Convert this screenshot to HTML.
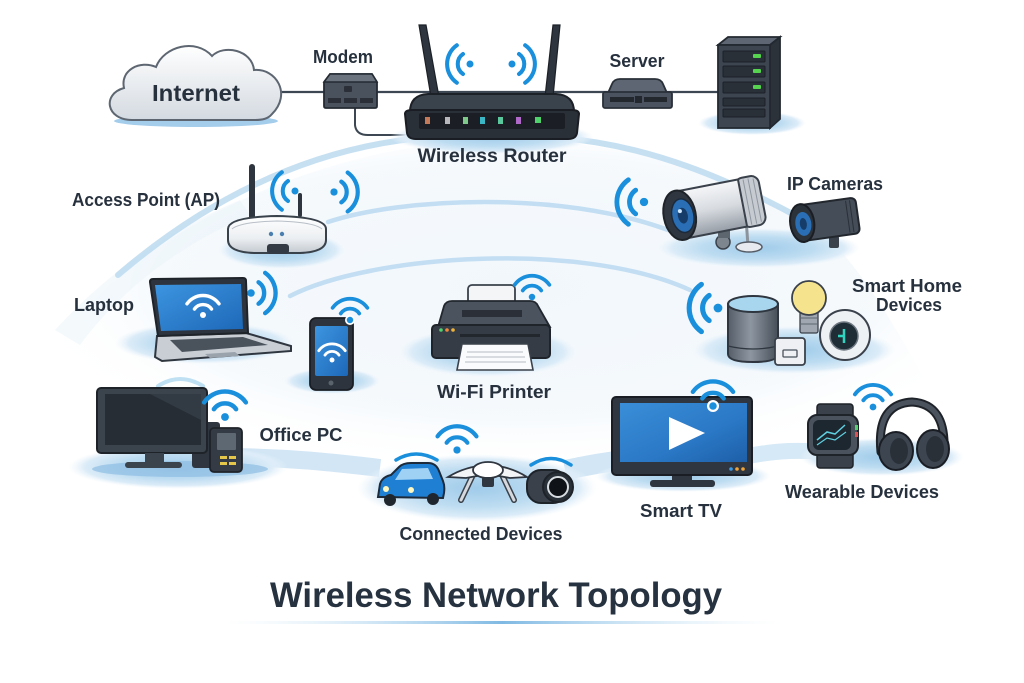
<!DOCTYPE html>
<html><head><meta charset="utf-8"><style>
html,body{margin:0;padding:0;background:#fff;}
svg{display:block;}
text{font-family:"Liberation Sans",Arial,sans-serif;fill:#27313e;font-weight:bold;}
</style></head><body>
<svg width="1024" height="683" viewBox="0 0 1024 683" xmlns="http://www.w3.org/2000/svg" style="color:#1a8fdc">
<defs>
<radialGradient id="sh" cx="50%" cy="50%" r="50%">
<stop offset="0" stop-color="#9fcbea"/>
<stop offset="0.55" stop-color="#bddcf1"/>
<stop offset="0.85" stop-color="#dcecf8"/>
<stop offset="1" stop-color="#eef6fc" stop-opacity="0"/>
</radialGradient>
<radialGradient id="wash" cx="50%" cy="45%" r="55%">
<stop offset="0" stop-color="#eef5fb"/>
<stop offset="0.7" stop-color="#f3f8fc"/>
<stop offset="1" stop-color="#ffffff" stop-opacity="0"/>
</radialGradient>
<linearGradient id="blueS" x1="0" y1="0" x2="1" y2="1"><stop offset="0" stop-color="#3d95e0"/><stop offset="1" stop-color="#1d68b8"/></linearGradient>
<linearGradient id="blueTV" x1="0" y1="0" x2="1" y2="1"><stop offset="0" stop-color="#3a8ed8"/><stop offset="0.6" stop-color="#2a78c6"/><stop offset="1" stop-color="#1e5fa8"/></linearGradient>
<linearGradient id="silver" x1="0" y1="0" x2="0" y2="1"><stop offset="0" stop-color="#f5f6f8"/><stop offset="0.5" stop-color="#d7dbe0"/><stop offset="1" stop-color="#969da6"/></linearGradient>
<linearGradient id="apG" x1="0" y1="0" x2="0" y2="1"><stop offset="0" stop-color="#ffffff"/><stop offset="0.6" stop-color="#eceff2"/><stop offset="1" stop-color="#c3c9d0"/></linearGradient>
<linearGradient id="cloudG" x1="0" y1="0" x2="0" y2="1"><stop offset="0" stop-color="#ffffff"/><stop offset="1" stop-color="#d4dae1"/></linearGradient>
<linearGradient id="cyl" x1="0" y1="0" x2="1" y2="0"><stop offset="0" stop-color="#555d68"/><stop offset="0.45" stop-color="#8d96a1"/><stop offset="1" stop-color="#464e58"/></linearGradient>
<linearGradient id="ul" x1="0" x2="1"><stop offset="0" stop-color="#d6ebf8" stop-opacity="0"/><stop offset="0.5" stop-color="#7fb9e3"/><stop offset="1" stop-color="#d6ebf8" stop-opacity="0"/></linearGradient>
<g id="wf" fill="none" stroke="currentColor" stroke-width="3" stroke-linecap="round">
<circle cx="0" cy="0" r="2.6" fill="currentColor" stroke="none"/>
<path d="M-7.4 -5.2 A9 9 0 0 1 7.4 -5.2"/>
<path d="M-13.9 -9.75 A17 17 0 0 1 13.9 -9.75"/>
</g>
</defs>

<!-- background wash -->
<path d="M60 340 C130 240 300 150 480 140 C650 135 770 190 840 250 C900 320 930 400 980 470 L60 470 Z" fill="url(#wash)" opacity="0.8"/>
<path d="M55 330 C110 270 170 230 240 200 L250 215 C180 245 120 290 80 345 Z" fill="#e9f3fa" opacity="0.5"/>

<!-- arcs -->
<path d="M118 275 C200 205 300 150 420 138 L560 138 C650 145 730 180 800 218" fill="none" stroke="#bcdaf0" stroke-width="6" stroke-linecap="round" opacity="0.85"/>
<path d="M328 222 C400 198 560 190 668 230" fill="none" stroke="#c3def2" stroke-width="4.5" stroke-linecap="round"/>
<path d="M290 296 C370 255 580 240 690 290" fill="none" stroke="#c3def2" stroke-width="4.5" stroke-linecap="round"/>

<!-- bottom bands -->
<path d="M236 457 C290 458 330 462 380 468" fill="none" stroke="#d2e6f5" stroke-width="18"/>
<path d="M565 470 C590 465 605 462 625 460" fill="none" stroke="#d2e6f5" stroke-width="20"/>
<path d="M748 456 C780 450 800 450 825 452" fill="none" stroke="#d6e9f6" stroke-width="16"/>

<!-- main line -->
<line x1="280" y1="92" x2="720" y2="92" stroke="#3d4753" stroke-width="2.2"/>
<path d="M355 107 L355 125 Q356 135 368 135 L410 135" fill="none" stroke="#3d4753" stroke-width="2"/>

<!-- Cloud -->
<ellipse cx="196" cy="121" rx="82" ry="6" fill="#8dbfe6" opacity="0.8"/>
<path d="M132 120 C106 120 102 94 124 88 C120 70 140 60 156 67 C164 46 196 38 212 56 C224 44 252 50 254 70 C276 68 292 94 272 114 C268 119 262 120 255 120 Z" fill="url(#cloudG)" stroke="#5d6671" stroke-width="2"/>
<text x="196" y="101" text-anchor="middle" font-size="23" textLength="88" lengthAdjust="spacingAndGlyphs">Internet</text>

<!-- Modem -->
<path d="M330 74 L372 74 L377 82 L377 106 Q377 108 375 108 L326 108 Q324 108 324 106 L324 82 Z" fill="#4a525e" stroke="#252b33" stroke-width="1.8"/>
<path d="M330 74 L372 74 L377 82 L324 82 Z" fill="#6b737e" stroke="#252b33" stroke-width="1.5"/>
<rect x="344" y="86" width="8" height="6" rx="1" fill="#2b3038"/>
<rect x="328" y="98" width="13" height="5" fill="#2b3038"/>
<rect x="344" y="98" width="13" height="5" fill="#2b3038"/>
<rect x="360" y="98" width="13" height="5" fill="#2b3038"/>
<text x="343" y="63" text-anchor="middle" font-size="18" textLength="60" lengthAdjust="spacingAndGlyphs">Modem</text>

<!-- Router -->
<ellipse cx="492" cy="137" rx="102" ry="17" fill="url(#sh)"/>
<path d="M419 25 L426 25 L439 97 L431 97 Z" fill="#2e353e" stroke="#1c2127" stroke-width="1.2"/>
<path d="M553 25 L560 25 L553 97 L545 97 Z" fill="#2e353e" stroke="#1c2127" stroke-width="1.2"/>
<path d="M410 112 Q410 95 428 94 L556 94 Q574 95 574 112 Z" fill="#3a424c" stroke="#1c2127" stroke-width="2"/>
<path d="M405 114 Q405 110 412 110 L572 110 Q579 110 579 114 L577 133 Q576 139 568 139 L416 139 Q408 139 407 133 Z" fill="#2a3038" stroke="#1a1e24" stroke-width="2"/>
<rect x="419" y="113" width="146" height="16" rx="2" fill="#1b1f25"/>
<rect x="425" y="117" width="5" height="7" fill="#c47a58"/>
<rect x="445" y="117" width="5" height="7" fill="#b8b8bc"/>
<rect x="463" y="117" width="5" height="7" fill="#7fc98b"/>
<rect x="480" y="117" width="5" height="7" fill="#3ab6c5"/>
<rect x="498" y="117" width="5" height="7" fill="#5ac79c"/>
<rect x="516" y="117" width="5" height="7" fill="#b068c9"/>
<rect x="535" y="117" width="6" height="6" fill="#4fd16b"/>
<use href="#wf" transform="translate(470,64) rotate(-90) scale(1.35)"/>
<use href="#wf" transform="translate(512,64) rotate(90) scale(1.35)"/>
<text x="492" y="162" text-anchor="middle" font-size="19" textLength="149" lengthAdjust="spacingAndGlyphs">Wireless Router</text>

<!-- Server small -->
<path d="M608 93 L612 84 Q614 79 620 79 L655 79 Q661 79 663 84 L667 93 Z" fill="#5d6672" stroke="#2a3038" stroke-width="1.8"/>
<rect x="603" y="92" width="69" height="16" rx="2" fill="#4b5360" stroke="#2a3038" stroke-width="1.8"/>
<rect x="610" y="97" width="24" height="5" fill="#23282f"/>
<rect x="635" y="96" width="7" height="7" fill="#23282f"/>
<rect x="644" y="97" width="23" height="5" fill="#23282f"/>
<text x="637" y="67" text-anchor="middle" font-size="18" textLength="55" lengthAdjust="spacingAndGlyphs">Server</text>

<!-- Server tower -->
<ellipse cx="752" cy="123" rx="54" ry="12" fill="url(#sh)"/>
<path d="M718 45 L728 37 L780 37 L770 45 Z" fill="#5d6672" stroke="#232930" stroke-width="1.8"/>
<path d="M770 45 L780 37 L780 119 L770 128 Z" fill="#2c323a" stroke="#232930" stroke-width="1.8"/>
<rect x="718" y="45" width="52" height="83" fill="#3d4550" stroke="#232930" stroke-width="1.8"/>
<rect x="723" y="51" width="42" height="11" rx="1" fill="#2a3038" stroke="#1c2127"/>
<rect x="723" y="66" width="42" height="11" rx="1" fill="#2a3038" stroke="#1c2127"/>
<rect x="723" y="82" width="42" height="11" rx="1" fill="#2a3038" stroke="#1c2127"/>
<rect x="723" y="98" width="42" height="8" rx="1" fill="#2a3038" stroke="#1c2127"/>
<rect x="723" y="109" width="42" height="8" rx="1" fill="#2a3038" stroke="#1c2127"/>
<rect x="753" y="54" width="8" height="4" rx="1" fill="#57d44f"/>
<rect x="753" y="69" width="8" height="4" rx="1" fill="#57d44f"/>
<rect x="753" y="85" width="8" height="4" rx="1" fill="#57d44f"/>

<!-- Access Point -->
<ellipse cx="282" cy="250" rx="64" ry="19" fill="url(#sh)"/>
<rect x="249" y="164" width="6" height="56" rx="3" fill="#2e353e"/>
<rect x="298" y="193" width="4" height="24" rx="2" fill="#2e353e"/>
<path d="M228 229 Q228 217 277 216 Q326 217 326 229 L326 240 Q326 252 300 253 L254 253 Q228 252 228 240 Z" fill="url(#apG)" stroke="#39414b" stroke-width="2"/>
<path d="M232 229 Q240 222 277 221 Q314 222 322 229" fill="none" stroke="#b8bfc7" stroke-width="1"/>
<circle cx="271" cy="234" r="2.2" fill="#4a7fb0"/>
<circle cx="282" cy="234" r="2.2" fill="#4a7fb0"/>
<rect x="267" y="244" width="22" height="10" rx="3" fill="#333a43"/>
<use href="#wf" transform="translate(295,191) rotate(-90) scale(1.35)"/>
<use href="#wf" transform="translate(334,192) rotate(90) scale(1.4)"/>
<text x="146" y="206" text-anchor="middle" font-size="18" textLength="148" lengthAdjust="spacingAndGlyphs">Access Point (AP)</text>

<!-- IP Cameras -->
<ellipse cx="758" cy="248" rx="102" ry="20" fill="url(#sh)"/>
<use href="#wf" transform="translate(644,202) rotate(-90) scale(1.6)"/>
<line x1="746" y1="218" x2="748" y2="246" stroke="#8b939c" stroke-width="3"/>
<ellipse cx="749" cy="247" rx="13" ry="5" fill="#e7eaee" stroke="#555c66" stroke-width="1.5"/>
<circle cx="723" cy="242" r="7" fill="#7d858f" stroke="#3a414a" stroke-width="1.5"/>
<rect x="718" y="228" width="12" height="10" fill="#5d656f"/>
<g transform="translate(717,208) rotate(-11)">
<rect x="22" y="-25" width="24" height="50" rx="8" fill="#c6cbd1" stroke="#3a414a" stroke-width="2"/>
<line x1="31" y1="-23" x2="31" y2="23" stroke="#8f969f" stroke-width="1"/>
<line x1="36" y1="-23" x2="36" y2="23" stroke="#8f969f" stroke-width="1"/>
<line x1="41" y1="-22" x2="41" y2="22" stroke="#8f969f" stroke-width="1"/>
<rect x="-38" y="-24" width="64" height="48" fill="url(#silver)" stroke="#3a414a" stroke-width="2"/>
<ellipse cx="-38" cy="0" rx="16" ry="25" fill="#2f363f" stroke="#1e2329" stroke-width="2"/>
<ellipse cx="-35" cy="1" rx="11" ry="17" fill="#2a6fb5" stroke="#1b2b3d" stroke-width="1.5"/>
<ellipse cx="-35" cy="1" rx="5" ry="8" fill="#163d69"/>
<circle cx="-37" cy="-4" r="2" fill="#cfe8ff"/>
</g>
<rect x="829" y="236" width="10" height="12" rx="2" fill="#3a414a"/>
<g transform="translate(824,220) rotate(-8)">
<rect x="-22" y="-18" width="56" height="36" rx="5" fill="#454d58" stroke="#22272e" stroke-width="2"/>
<line x1="24" y1="-16" x2="24" y2="16" stroke="#2a3038"/>
<line x1="28" y1="-16" x2="28" y2="16" stroke="#2a3038"/>
<ellipse cx="-22" cy="0" rx="12" ry="19" fill="#2c323a" stroke="#1a1e24" stroke-width="2"/>
<ellipse cx="-21" cy="1" rx="8" ry="12" fill="#2a6fb5"/>
<ellipse cx="-21" cy="1" rx="3.5" ry="6" fill="#163d69"/>
</g>
<text x="835" y="190" text-anchor="middle" font-size="18" textLength="96" lengthAdjust="spacingAndGlyphs">IP Cameras</text>

<!-- Laptop -->
<ellipse cx="205" cy="343" rx="90" ry="21" fill="url(#sh)"/>
<path d="M157 336 L246 333 L291 346 L291 351 L162 361 L155 357 Z" fill="#c9ced4" stroke="#2f363f" stroke-width="2"/>
<path d="M170 340 L243 337 L268 345 L182 352 Z" fill="#4a525c"/>
<path d="M205 354 L235 352 L240 356 L210 358 Z" fill="#9aa2ab"/>
<path d="M150 282 Q150 279 153 279 L243 278 Q246 278 246 281 L248 333 L158 336 Z" fill="#2d343d" stroke="#1e2329" stroke-width="2"/>
<path d="M155 285 L241 284 L243 329 L161 331 Z" fill="url(#blueS)"/>
<use href="#wf" style="color:#ffffff" transform="translate(203,315) scale(1.15)"/>
<use href="#wf" transform="translate(251,293) rotate(90) scale(1.45)"/>
<text x="104" y="311" text-anchor="middle" font-size="18" textLength="60" lengthAdjust="spacingAndGlyphs">Laptop</text>

<!-- Phone -->
<ellipse cx="332" cy="381" rx="48" ry="13" fill="url(#sh)"/>
<rect x="310" y="318" width="43" height="72" rx="6" fill="#2d343d" stroke="#1a1e24" stroke-width="1.8"/>
<rect x="315" y="326" width="33" height="50" rx="2" fill="url(#blueS)"/>
<circle cx="331" cy="383" r="2.5" fill="#5a626c"/>
<use href="#wf" style="color:#ffffff" transform="translate(332,360) scale(0.95)"/>
<circle cx="350" cy="320" r="5" fill="#ffffff"/>
<use href="#wf" transform="translate(350,320) scale(1.25)"/>

<!-- Printer -->
<ellipse cx="488" cy="352" rx="90" ry="25" fill="url(#sh)"/>
<rect x="468" y="285" width="47" height="30" rx="4" fill="#f4f5f6" stroke="#3a414a" stroke-width="1.8"/>
<path d="M438 327 L444 306 Q446 301 452 301 L530 301 Q536 301 538 306 L550 327 Z" fill="#4b535e" stroke="#22272e" stroke-width="1.8"/>
<rect x="462" y="310" width="60" height="7" fill="#2b3038"/>
<rect x="432" y="325" width="118" height="33" rx="4" fill="#353c46" stroke="#1f242b" stroke-width="2"/>
<rect x="460" y="334" width="80" height="3" fill="#22272e"/>
<circle cx="441" cy="330" r="1.8" fill="#4fd16b"/>
<circle cx="447" cy="330" r="1.8" fill="#f08a3a"/>
<circle cx="453" cy="330" r="1.8" fill="#f0b43a"/>
<path d="M462 344 L528 344 L533 370 L457 370 Z" fill="#fafbfc" stroke="#3a414a" stroke-width="1.6"/>
<line x1="467" y1="352" x2="523" y2="352" stroke="#b7bec6"/>
<line x1="466" y1="357" x2="525" y2="357" stroke="#b7bec6"/>
<line x1="465" y1="362" x2="526" y2="362" stroke="#b7bec6"/>
<use href="#wf" transform="translate(532,297) scale(1.25)"/>
<text x="494" y="398" text-anchor="middle" font-size="18" textLength="114" lengthAdjust="spacingAndGlyphs">Wi-Fi Printer</text>

<!-- Smart Home -->
<ellipse cx="793" cy="350" rx="102" ry="24" fill="url(#sh)"/>
<use href="#wf" transform="translate(718,308) rotate(-90) scale(1.7)"/>
<path d="M728 304 L728 354 Q728 362 753 362 Q778 362 778 354 L778 304 Z" fill="url(#cyl)" stroke="#2f363f" stroke-width="2"/>
<path d="M728 346 Q753 352 778 346" fill="none" stroke="#2f363f" stroke-width="1.2"/>
<ellipse cx="753" cy="304" rx="25" ry="8" fill="#a9d6ef" stroke="#2f363f" stroke-width="2"/>
<rect x="800" y="311" width="18" height="22" rx="2" fill="#a0a7b0" stroke="#3a414a" stroke-width="1.3"/>
<line x1="800" y1="318" x2="818" y2="318" stroke="#5c646e"/>
<line x1="800" y1="324" x2="818" y2="324" stroke="#5c646e"/>
<circle cx="809" cy="298" r="17" fill="#f6e38e" stroke="#3a414a" stroke-width="1.8"/>
<circle cx="845" cy="335" r="25" fill="#eef1f4" stroke="#3a414a" stroke-width="2"/>
<circle cx="844" cy="336" r="14" fill="#1f2e36" stroke="#6c7680" stroke-width="1.5"/>
<line x1="844" y1="329" x2="844" y2="343" stroke="#2fd5c0" stroke-width="2.5"/>
<line x1="838" y1="336" x2="845" y2="336" stroke="#2fd5c0" stroke-width="2.5"/>
<rect x="775" y="338" width="30" height="27" rx="3" fill="#eef0f3" stroke="#3a414a" stroke-width="1.8"/>
<rect x="783" y="350" width="14" height="7" rx="1" fill="none" stroke="#4a525c" stroke-width="1.3"/>
<text x="907" y="292" text-anchor="middle" font-size="18" textLength="110" lengthAdjust="spacingAndGlyphs">Smart Home</text>
<text x="909" y="311" text-anchor="middle" font-size="18" textLength="66" lengthAdjust="spacingAndGlyphs">Devices</text>

<!-- Office PC -->
<ellipse cx="178" cy="467" rx="110" ry="22" fill="url(#sh)"/>
<ellipse cx="180" cy="469" rx="88" ry="8" fill="#8fbde2" opacity="0.7"/>
<path d="M158 386 Q180 372 203 386" fill="none" stroke="#bfe0f3" stroke-width="4" stroke-linecap="round"/>
<rect x="192" y="422" width="28" height="46" rx="3" fill="#2f363f"/>
<rect x="97" y="388" width="110" height="65" rx="4" fill="#3b434d" stroke="#1e2329" stroke-width="2"/>
<rect x="105" y="394" width="96" height="51" fill="#262d35"/>
<path d="M150 394 L201 394 L201 420 Z" fill="#323a44"/>
<rect x="145" y="453" width="19" height="11" fill="#3b434d"/>
<rect x="125" y="462" width="57" height="6" rx="3" fill="#3b434d"/>
<rect x="210" y="428" width="32" height="44" rx="4" fill="#343b45" stroke="#1e2329" stroke-width="1.8"/>
<rect x="217" y="433" width="19" height="17" rx="1" fill="#5e6873"/>
<rect x="220" y="456" width="7" height="3" fill="#e4c64a"/>
<rect x="229" y="456" width="7" height="3" fill="#e4c64a"/>
<rect x="220" y="462" width="7" height="3" fill="#e4c64a"/>
<rect x="229" y="462" width="7" height="3" fill="#e4c64a"/>
<use href="#wf" transform="translate(225,417) scale(1.5)"/>
<text x="301" y="441" text-anchor="middle" font-size="18" textLength="83" lengthAdjust="spacingAndGlyphs">Office PC</text>

<!-- Connected Devices -->
<ellipse cx="477" cy="488" rx="120" ry="34" fill="url(#sh)"/>
<path d="M396 460 Q416 448 437 460" fill="none" stroke="#1a8fdc" stroke-width="3.5" stroke-linecap="round"/>
<path d="M531 465 Q551 452 571 465" fill="none" stroke="#1a8fdc" stroke-width="3.5" stroke-linecap="round"/>
<path d="M378 497 L380 484 Q382 477 391 475 L399 467 Q403 463 411 463 L428 463 Q436 463 439 471 L443 481 Q445 486 444 493 L443 498 Z" fill="#1f7fd3" stroke="#1d2a3a" stroke-width="2"/>
<path d="M402 469 L428 468 L433 479 L395 480 Z" fill="#9fd1f5"/>
<circle cx="386" cy="489" r="3" fill="#fff8c0"/>
<circle cx="411" cy="490" r="3" fill="#fff8c0"/>
<ellipse cx="390" cy="500" rx="6" ry="6" fill="#20262d"/>
<ellipse cx="433" cy="499" rx="6" ry="6" fill="#20262d"/>
<line x1="472" y1="477" x2="461" y2="500" stroke="#3a414a" stroke-width="6" stroke-linecap="round"/>
<line x1="472" y1="477" x2="461" y2="500" stroke="#d5d9de" stroke-width="3" stroke-linecap="round"/>
<line x1="503" y1="477" x2="514" y2="500" stroke="#3a414a" stroke-width="6" stroke-linecap="round"/>
<line x1="503" y1="477" x2="514" y2="500" stroke="#d5d9de" stroke-width="3" stroke-linecap="round"/>
<path d="M448 477 Q466 466 488 465 Q510 466 527 477 L510 478 L488 474 L466 478 Z" fill="#f2f4f6" stroke="#2f363f" stroke-width="1.8"/>
<ellipse cx="488" cy="470" rx="15" ry="8" fill="#ffffff" stroke="#2f363f" stroke-width="1.8"/>
<rect x="482" y="477" width="12" height="10" rx="2" fill="#2f363f"/>
<rect x="527" y="470" width="40" height="33" rx="14" fill="#3a414b" stroke="#1e2329" stroke-width="2"/>
<circle cx="558" cy="487" r="15" fill="#2a3038" stroke="#1e2329" stroke-width="2"/>
<circle cx="558" cy="487" r="10" fill="#0f1318" stroke="#d8dde2" stroke-width="2"/>
<use href="#wf" transform="translate(457,450) scale(1.4)"/>
<text x="481" y="540" text-anchor="middle" font-size="18" textLength="163" lengthAdjust="spacingAndGlyphs">Connected Devices</text>

<!-- Smart TV -->
<ellipse cx="683" cy="476" rx="88" ry="16" fill="url(#sh)"/>
<rect x="672" y="474" width="20" height="7" fill="#2f363f"/>
<rect x="650" y="480" width="65" height="7" rx="3" fill="#2f363f"/>
<rect x="612" y="397" width="140" height="78" rx="4" fill="#2f363f" stroke="#1a1e24" stroke-width="2"/>
<rect x="620" y="403" width="127" height="59" fill="url(#blueTV)"/>
<polygon points="669,417 669,450 705,433" fill="#ffffff"/>
<circle cx="731" cy="469" r="1.8" fill="#3a9be8"/>
<circle cx="737" cy="469" r="1.8" fill="#f0a43a"/>
<circle cx="743" cy="469" r="1.8" fill="#f0a43a"/>
<circle cx="713" cy="406" r="6" fill="#ffffff"/>
<use href="#wf" transform="translate(713,406) scale(1.45)"/>
<text x="681" y="517" text-anchor="middle" font-size="18" textLength="82" lengthAdjust="spacingAndGlyphs">Smart TV</text>

<!-- Wearables -->
<ellipse cx="882" cy="457" rx="82" ry="19" fill="url(#sh)"/>
<rect x="817" y="404" width="36" height="16" rx="3" fill="#3a414b" stroke="#1e2329" stroke-width="1.5"/>
<rect x="817" y="450" width="36" height="18" rx="3" fill="#3a414b" stroke="#1e2329" stroke-width="1.5"/>
<rect x="808" y="415" width="50" height="40" rx="9" fill="#4a525d" stroke="#1e2329" stroke-width="2"/>
<rect x="813" y="420" width="38" height="30" rx="6" fill="#1d2730"/>
<polyline points="817,440 827,432 835,434 845,425" fill="none" stroke="#5fd0e0" stroke-width="1.5"/>
<polyline points="817,445 827,438 835,440 846,432" fill="none" stroke="#5fd0e0" stroke-width="1.2"/>
<rect x="855" y="425" width="3" height="5" fill="#4fd16b"/>
<rect x="855" y="432" width="3" height="5" fill="#e05050"/>
<path d="M881 452 Q876 404 912 402 Q946 404 944 450" fill="none" stroke="#1e2329" stroke-width="9" stroke-linecap="round"/>
<path d="M881 452 Q876 404 912 402 Q946 404 944 450" fill="none" stroke="#4a525d" stroke-width="5" stroke-linecap="round"/>
<ellipse cx="896" cy="451" rx="17" ry="19" fill="#3d4550" stroke="#1a1e24" stroke-width="2"/>
<ellipse cx="899" cy="451" rx="9" ry="13" fill="#2a3038"/>
<ellipse cx="933" cy="449" rx="16" ry="19" fill="#3d4550" stroke="#1a1e24" stroke-width="2"/>
<ellipse cx="935" cy="449" rx="9" ry="13" fill="#2a3038"/>
<use href="#wf" transform="translate(873,407) scale(1.3)"/>
<text x="862" y="498" text-anchor="middle" font-size="18" textLength="154" lengthAdjust="spacingAndGlyphs">Wearable Devices</text>

<!-- Title -->
<text x="496" y="607" text-anchor="middle" font-size="35" textLength="452" lengthAdjust="spacingAndGlyphs" style="fill:#26323f">Wireless Network Topology</text>
<rect x="225" y="621" width="555" height="3" fill="url(#ul)"/>
</svg>
</body></html>
